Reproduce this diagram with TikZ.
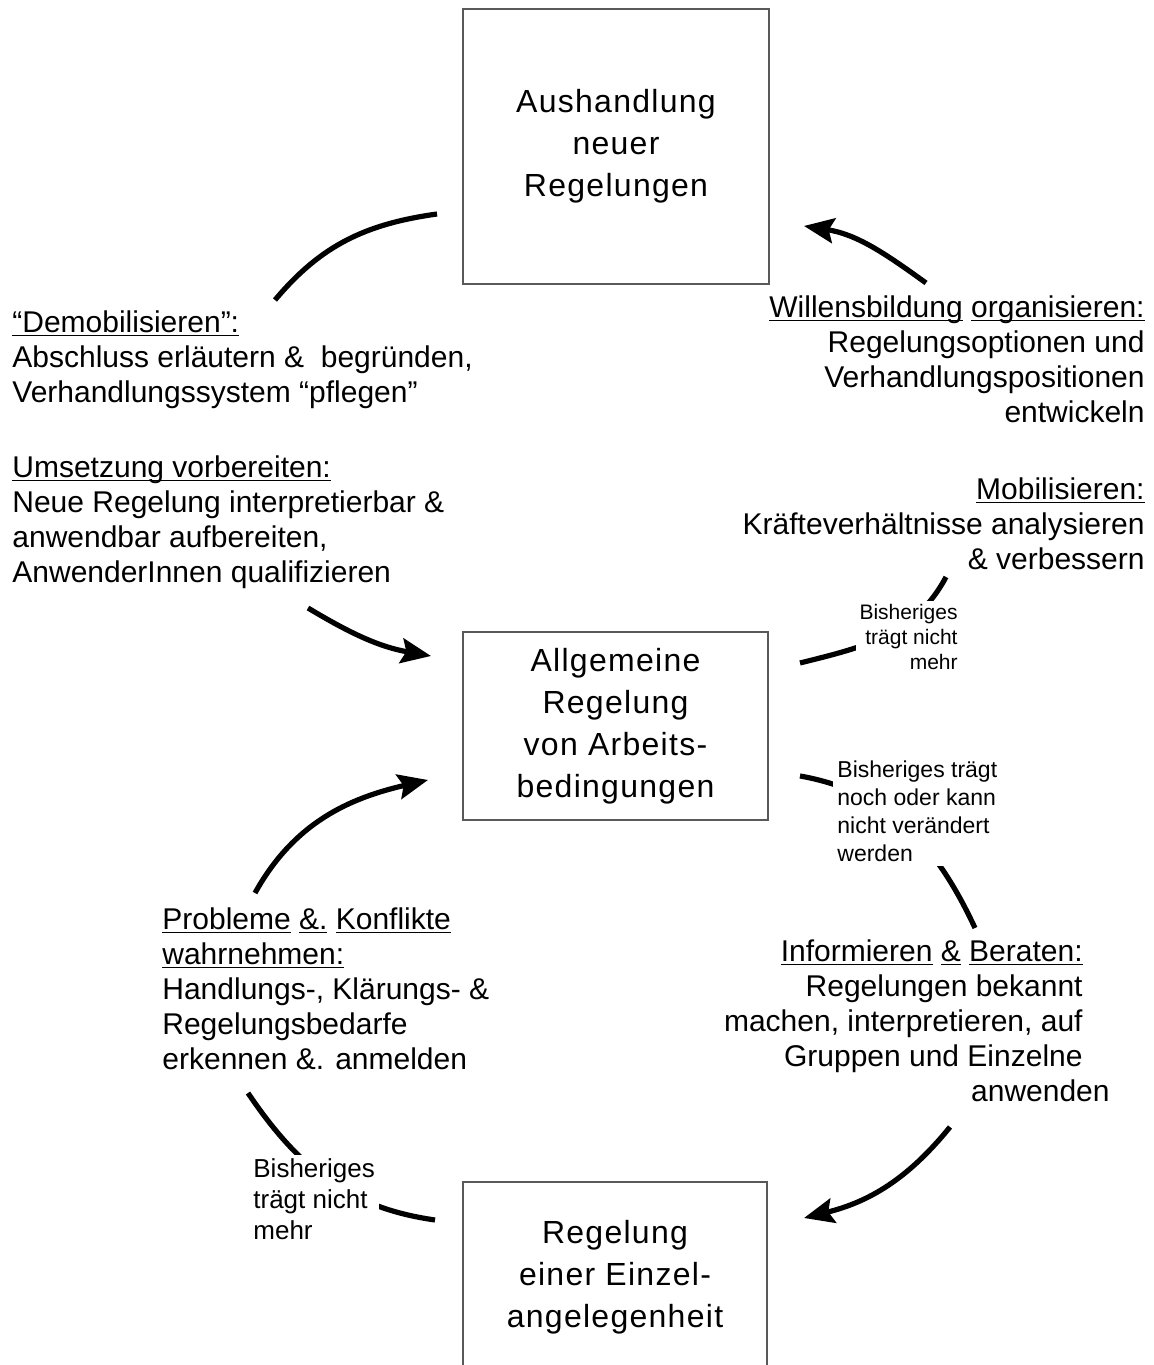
\documentclass[tikz,border=0pt]{standalone}
\usepackage{fontspec}
\setmainfont{Liberation Sans}
\newfontfamily\boxfont[LetterSpace=4]{Liberation Sans}
\usetikzlibrary{arrows.meta}
\newcommand{\ulw}[1]{\underline{\raisebox{0pt}[\height][0pt]{#1}}}

\begin{document}
\begin{tikzpicture}[x=0.5pt, y=0.5pt,
    box/.style={draw=black!65, line width=0.7pt, align=center, inner sep=0pt,
      font=\boxfont\fontsize{16}{21}\selectfont},
    lbl/.style={inner sep=0pt, font=\fontsize{15}{17.5}\selectfont},
    note/.style={fill=white, inner sep=2pt},
    cyc/.style={line width=2.6pt},
    tip/.style={-{Stealth[length=15pt, width=12.5pt, inset=2.5pt]}}]
    \clip (0,0) rectangle (1153,1365);
    % boxes
    \node[box, minimum width=153pt, minimum height=137.5pt] (aush) at (616,1218.5) {Aushandlung\\ neuer\\ Regelungen};
    \node[box, minimum width=152.5pt, minimum height=94pt] (allg) at (615.5,639) {Allgemeine\\ Regelung\\ von Arbeits-\\ bedingungen};
    \node[box, minimum width=152pt, minimum height=95pt] (einz) at (615,88) {Regelung\\ einer Einzel-\\ angelegenheit};
    %
    \coordinate (aush-w) at (437,1151);
    \coordinate (demob-n) at (275,1065);
    \coordinate (willens-n) at (926,1082);
    \coordinate (aush-e) at (804,1139);
    \coordinate (umsetz-s) at (308,757);
    \coordinate (allg-nw) at (431,709);
    \coordinate (allg-ne) at (800,702);
    \coordinate (mobil-s) at (946,788);
    \coordinate (allg-se) at (800,589);
    \coordinate (inform-n) at (975,437);
    \coordinate (inform-s) at (950,238);
    \coordinate (einz-e) at (804,147);
    \coordinate (probl-n) at (255,472);
    \coordinate (allg-sw) at (428,585);
    \coordinate (einz-w) at (435,145);
    \coordinate (probl-s) at (248,272);
    %
    \draw[cyc] (aush-w) to[out=188, in=50] (demob-n);
    \draw[cyc, tip] (willens-n) to[out=144, in=-9] (aush-e);
    \draw[cyc, tip] (umsetz-s) to[out=-31, in=170] (allg-nw);
    \draw[cyc] (allg-ne) to[out=14, in=242] (mobil-s);
    \draw[cyc] (allg-se) to[out=-10, in=115] (inform-n);
    \draw[cyc, tip] (inform-s) to[out=231, in=14] (einz-e);
    \draw[cyc, tip] (probl-n) to[out=61, in=193] (allg-sw);
    \draw[cyc] (einz-w) to[out=172, in=-56] (probl-s);
    % texts (anchored at the baseline of the last line)
    \node[lbl, align=left, anchor=base west] (demob) at (12,962) {\ulw{“Demobilisieren”:}\\ Abschluss erläutern \& \ begründen,\\ Verhandlungssystem “pflegen”};
    \node[lbl, align=left, anchor=base west] (umsetz) at (12,782) {\ulw{Umsetzung vorbereiten:}\\ Neue Regelung interpretierbar \&\\ anwendbar aufbereiten,\\ AnwenderInnen qualifizieren};
    \node[lbl, align=right, anchor=base east] (willens) at (1145,942) {\ulw{Willensbildung} \ulw{organisieren:}\\ Regelungsoptionen und\\ Verhandlungspositionen\\ entwickeln};
    \node[lbl, align=right, anchor=base east] (mobil) at (1145,795) {\ulw{Mobilisieren:}\\ Kräfteverhältnisse analysieren\\ \& verbessern};
    \node[lbl, align=left, anchor=base west] (probl) at (162,295) {\ulw{Probleme} \ulw{\&.} \ulw{Konflikte}\\ \ulw{wahrnehmen:}\\ Handlungs-, Klärungs- \&\\ Regelungsbedarfe\\ erkennen \&. anmelden};
    \node[lbl, align=right, anchor=base east] (inform) at (1083,263) {\ulw{Informieren} \ulw{\&} \ulw{Beraten:}\\ Regelungen bekannt\\ machen, interpretieren, auf\\ Gruppen und Einzelne\\ anwenden\hspace*{-13.5pt}};
    %
    \node[note, align=right, anchor=base east, font=\fontsize{10.5}{12.5}\selectfont] (trägt-a) at (962,695) {Bisheriges\\ trägt nicht\\ mehr};
    \node[note, align=left, anchor=base west, font=\fontsize{11.5}{14}\selectfont] (trägt-b) at (833,503) {Bisheriges trägt\\ noch oder kann\\ nicht verändert\\ werden};
    \node[note, align=left, anchor=base west, font=\fontsize{13}{15.5}\selectfont] (trägt-c) at (249,125) {Bisheriges\\ trägt nicht\\ mehr};
\end{tikzpicture}
\end{document}
